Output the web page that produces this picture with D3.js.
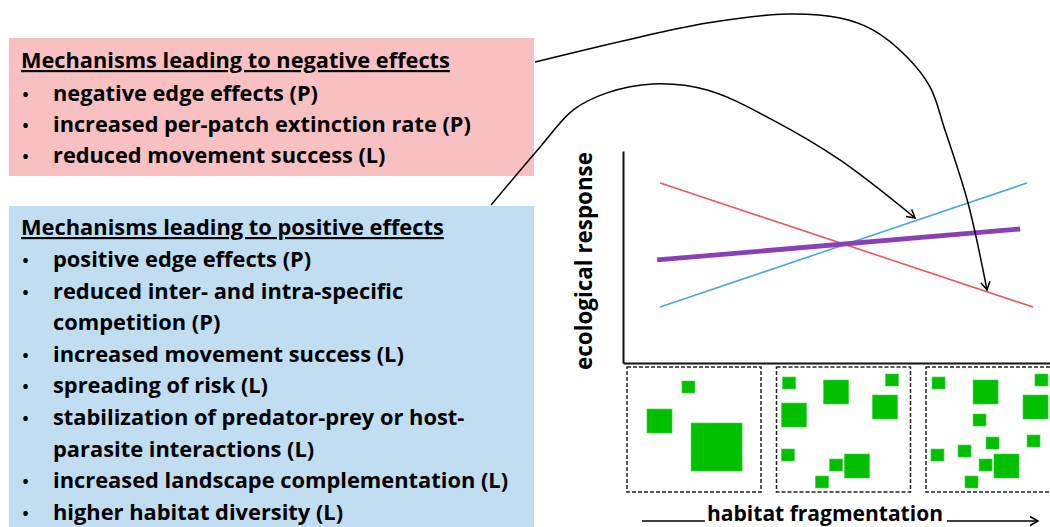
<!DOCTYPE html>
<html><head><meta charset="utf-8">
<script src="https://cdn.jsdelivr.net/npm/d3@7"></script>
<style>
html,body{margin:0;padding:0;background:#fff;overflow:hidden}
text{font-family:"Open Sans",Lato,sans-serif;font-weight:700;fill:#000}
</style></head>
<body>
<svg id="c" width="1050" height="527"></svg>
<script>
// ---------- data ----------
const negHeading = "Mechanisms leading to negative effects";
const negItems = [
  ["negative edge effects (P)"],
  ["increased per-patch extinction rate (P)"],
  ["reduced movement success (L)"]
];
const posHeading = "Mechanisms leading to positive effects";
const posItems = [
  ["positive edge effects (P)"],
  ["reduced inter- and intra-specific", "competition (P)"],
  ["increased movement success (L)"],
  ["spreading of risk (L)"],
  ["stabilization of predator-prey or host-", "parasite interactions (L)"],
  ["increased landscape complementation (L)"],
  ["higher habitat diversity (L)"]
];
const yAxisLabel = "ecological response";
const xAxisLabel = "habitat fragmentation";

// response lines (fragmentation 0-100, response 0-100)
const negativeX = [8.7, 96.0];
const negativeY = [84.9, 26.4];
const positiveX = [8.7, 94.6];
const positiveY = [26.4, 84.9];
const netX = [8.0, 93.0];
const netY = [48.6, 63.2];

// annotation arrows (same units as the chart scales)
const negArrowX = [-20.6, 4.0, 19.7, 38.4, 50.8, 58.5, 66.5, 71.9, 75.4, 80.8, 85.25];
const negArrowY = [142.0, 153.8, 160.4, 164.6, 162.7, 157.1, 144.3, 130.2, 109.9, 75.5, 34.4];
const posArrowX = [-30.9, -19.4, -11.7, -3.75, 7.0, 19.7, 35.1, 50.8, 68.4];
const posArrowY = [74.5, 101.9, 119.3, 127.4, 131.6, 128.8, 114.6, 95.8, 68.4];

// landscapes: patch x, y (% of panel), w, h (% of panel)
const landscape1 = [
  [41.0, 11.2, 9.7, 9.6],
  [14.9, 33.6, 18.7, 19.2],
  [47.8, 44.8, 38.1, 38.4]
];
const landscape2 = [
  [4.5, 8.0, 9.7, 9.6], [35.1, 10.4, 18.7, 19.2], [81.3, 5.6, 9.7, 9.6],
  [71.6, 22.4, 18.7, 19.2], [3.7, 28.8, 18.7, 19.2], [3.7, 65.6, 9.7, 9.6],
  [39.6, 73.6, 9.7, 9.6], [50.7, 69.6, 18.7, 19.2], [29.1, 87.2, 9.7, 9.6]
];
const landscape3 = [
  [4.5, 8.0, 9.7, 9.6], [35.1, 10.4, 18.7, 19.2], [81.3, 5.6, 9.7, 9.6],
  [72.4, 22.4, 18.7, 19.2], [35.1, 37.6, 9.7, 9.6], [44.8, 56.0, 9.7, 9.6],
  [75.4, 54.4, 9.7, 9.6], [3.7, 65.6, 9.7, 9.6], [23.9, 62.4, 9.7, 9.6],
  [39.6, 73.6, 9.7, 9.6], [50.7, 69.6, 18.7, 19.2], [29.1, 87.2, 9.7, 9.6]
];
const landscapes = [landscape1, landscape2, landscape3];

// ---------- drawing ----------
const svg = d3.select("#c");
const defs = svg.append("defs");
defs.append("marker").attr("id","ah").attr("markerUnits","userSpaceOnUse")
  .attr("viewBox","-10 -6 12 12").attr("refX",0).attr("refY",0)
  .attr("markerWidth",12).attr("markerHeight",12).attr("orient","auto")
  .append("path").attr("d","M-8,-4.5 L0,0 L-8,4.5").attr("fill","none")
  .attr("stroke","#000").attr("stroke-width",1.5);

// fit font size so a text spans a target width
function fitSize(sel, base, target) {
  const w = sel.node().getComputedTextLength();
  return base * target / w;
}

// text boxes
function textBox(x, y, w, h, color, heading, items, headBase, firstBase, step, headWidth) {
  const g = svg.append("g");
  g.append("rect").attr("x",x).attr("y",y).attr("width",w).attr("height",h).attr("fill",color);
  const ht = g.append("text").attr("x",21).attr("y",headBase).attr("font-size",22)
    .attr("text-decoration","underline").text(heading);
  const fs = fitSize(ht, 22, headWidth);
  ht.attr("font-size", fs);
  let line = 0;
  items.forEach(lines => {
    g.append("text").attr("x",25.5).attr("y",firstBase + line*step - 1).attr("font-size",16)
      .attr("text-anchor","middle").text("•");
    lines.forEach(t => {
      g.append("text").attr("x",53).attr("y",firstBase + line*step).attr("font-size",fs).text(t);
      line++;
    });
  });
}
textBox(9, 38, 525, 138, "#f9c0c1", negHeading, negItems, 68, 101, 31, 429);
textBox(9, 206, 525, 330, "#c0ddf2", posHeading, posItems, 235, 267, 31.6, 423);

// chart scales
const x = d3.scaleLinear().domain([0,100]).range([623,1050]);
const y = d3.scaleLinear().domain([0,100]).range([363,151]);

svg.append("g").attr("transform",`translate(0,${y(0)})`)
  .call(d3.axisBottom(x).ticks(0).tickSizeOuter(0))
  .call(g=>g.select(".domain").attr("stroke","#111").attr("stroke-width",2));
svg.append("g").attr("transform",`translate(${x(0)},0)`)
  .call(d3.axisLeft(y).ticks(0).tickSizeOuter(0))
  .call(g=>g.select(".domain").attr("stroke","#111").attr("stroke-width",2));

const line = d3.line().x(d=>x(d[0])).y(d=>y(d[1]));
const series = [
  {xs:negativeX, ys:negativeY, color:"#e8595b", w:1.6},
  {xs:positiveX, ys:positiveY, color:"#49a6dd", w:1.6},
  {xs:netX, ys:netY, color:"#8b3fb5", w:4.8}
];
series.forEach(s => {
  svg.append("path").datum(d3.zip(s.xs, s.ys)).attr("d", line)
    .attr("fill","none").attr("stroke",s.color).attr("stroke-width",s.w);
});

// arrows
const curve = d3.line().x(d=>x(d[0])).y(d=>y(d[1])).curve(d3.curveCatmullRom.alpha(0.5));
[[negArrowX,negArrowY],[posArrowX,posArrowY]].forEach(([xs,ys]) => {
  svg.append("path").datum(d3.zip(xs,ys)).attr("d",curve)
    .attr("fill","none").attr("stroke","#000").attr("stroke-width",1.5)
    .attr("marker-end","url(#ah)");
});

// y label
const yl = svg.append("text").attr("transform",`translate(592,${(152+370)/2}) rotate(-90)`)
  .attr("text-anchor","middle").attr("font-size",23).text(yAxisLabel);
yl.attr("font-size", fitSize(yl, 23, 218));

// landscapes
const panelW = 134, panelH = 125, panelTop = 367;
const panelX = d3.scalePoint().domain([0,1,2]).range([627, 926]);
const px = d3.scaleLinear().domain([0,100]).range([0,panelW]);
const py = d3.scaleLinear().domain([0,100]).range([0,panelH]);
landscapes.forEach((patches, i) => {
  const g = svg.append("g").attr("transform",`translate(${panelX(i)},${panelTop})`);
  g.append("rect").attr("width",panelW).attr("height",panelH).attr("fill","none")
    .attr("stroke","#222").attr("stroke-width",1.5).attr("stroke-dasharray","4,2");
  g.selectAll("rect.p").data(patches).join("rect").attr("class","p")
    .attr("x",d=>px(d[0])).attr("y",d=>py(d[1]))
    .attr("width",d=>px(d[2])).attr("height",d=>py(d[3]))
    .attr("fill","#00c000").attr("stroke","#4ad04a").attr("stroke-width",0.6);
});

// x label with arrow
const xl = svg.append("text").attr("x",825).attr("y",521).attr("text-anchor","middle")
  .attr("font-size",25).text(xAxisLabel);
xl.attr("font-size", fitSize(xl, 25, 236));
svg.append("line").attr("x1",642).attr("x2",705).attr("y1",521).attr("y2",521)
  .attr("stroke","#000").attr("stroke-width",1.5);
svg.append("line").attr("x1",947).attr("x2",1038).attr("y1",521).attr("y2",521)
  .attr("stroke","#000").attr("stroke-width",1.5).attr("marker-end","url(#ah)");
</script>
</body></html>
